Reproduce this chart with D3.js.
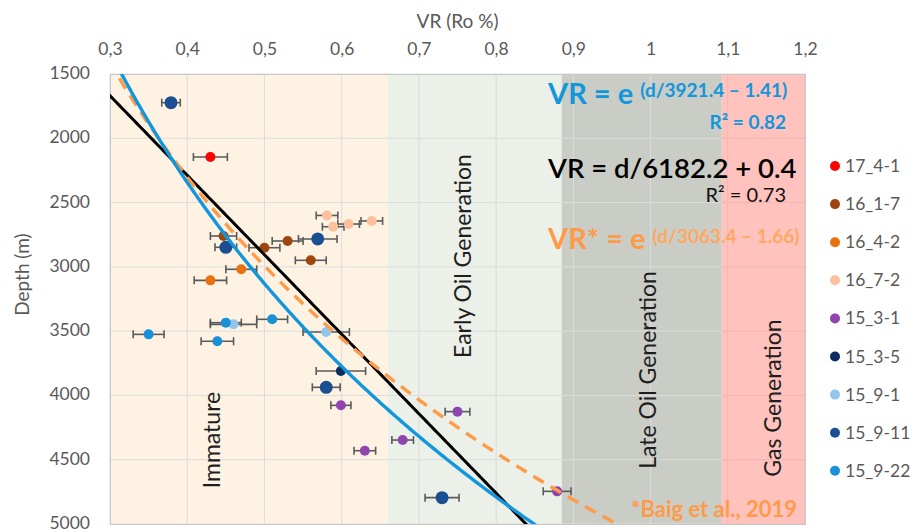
<!DOCTYPE html>
<html>
<head>
<meta charset="utf-8">
<script src="https://cdn.jsdelivr.net/npm/d3@7"></script>
<style>
  body { margin: 0; background: #fff; }
  text { font-family: Lato, "Open Sans", sans-serif; }
</style>
</head>
<body>
<script>
// wells shown in the legend, in draw order
var wells = ["17_4-1", "16_1-7", "16_4-2", "16_7-2", "15_3-1", "15_3-5", "15_9-1", "15_9-11", "15_9-22"];
var wellColors = ["#ff0000", "#9e4510", "#e8700f", "#fcc09c", "#8f45ae", "#0d2b60", "#94c6ec", "#1c4f92", "#1891d9"];

// samples: [well, VR (Ro %), depth (m), error +/-]
var samples = [
  ["17_4-1", 0.430, 2146, 0.022],
  ["16_1-7", 0.447, 2760, 0.017],
  ["16_1-7", 0.500, 2851, 0.020],
  ["16_1-7", 0.530, 2799, 0.020],
  ["16_1-7", 0.560, 2949, 0.020],
  ["16_4-2", 0.470, 3019, 0.020],
  ["16_4-2", 0.430, 3105, 0.021],
  ["16_7-2", 0.581, 2600, 0.014],
  ["16_7-2", 0.589, 2688, 0.014],
  ["16_7-2", 0.609, 2667, 0.014],
  ["16_7-2", 0.639, 2643, 0.014],
  ["15_3-1", 0.599, 4077, 0.013],
  ["15_3-1", 0.750, 4126, 0.016],
  ["15_3-1", 0.679, 4347, 0.014],
  ["15_3-1", 0.630, 4430, 0.014],
  ["15_3-1", 0.879, 4746, 0.018],
  ["15_3-5", 0.599, 3810, 0.032],
  ["15_9-1", 0.460, 3447, 0.030],
  ["15_9-1", 0.580, 3507, 0.030],
  ["15_9-11", 0.379, 1723, 0.012],
  ["15_9-11", 0.569, 2783, 0.025],
  ["15_9-11", 0.450, 2848, 0.014],
  ["15_9-11", 0.580, 3937, 0.018],
  ["15_9-11", 0.730, 4795, 0.022],
  ["15_9-22", 0.350, 3525, 0.020],
  ["15_9-22", 0.450, 3434, 0.020],
  ["15_9-22", 0.510, 3408, 0.020],
  ["15_9-22", 0.439, 3579, 0.021]
];

// maturity zones (VR boundaries)
var zoneNames = ["Immature", "Early Oil Generation", "Late Oil Generation", "Gas Generation"];
var zoneEdges = [0.3, 0.66, 0.885, 1.092, 1.2];
var zoneColors = ["#fef3e3", "#ebf0e8", "#c9cdc5", "#ff9c94"];
// label anchor for each zone [VR, depth]
var zoneLabelAt = [[0.4425, 4347], [0.7675, 2916], [1.007, 3802], [1.169, 4020]];

var xTicks = [0.3, 0.4, 0.5, 0.6, 0.7, 0.8, 0.9, 1.0, 1.1, 1.2];
var yTicks = [1500, 2000, 2500, 3000, 3500, 4000, 4500, 5000];

// trend lines as drawn
var expFit = { a: 3530, b: 1.58 };      // blue exponential
var linFit = { k: 6182.2, c: 0.03 };     // black linear
var baigFit = { a: 3095, b: 1.66 };      // Baig et al. 2019

var margin = { top: 74, left: 110, right: 114, bottom: 8 },
    width = 919,
    height = 532;

var svg = d3.select('body')
    .append('svg')
    .attr('width', width)
    .attr('height', height)

var x = d3.scaleLinear().domain([0.3, 1.2]).range([margin.left, width - margin.right])
var y = d3.scaleLinear().domain([1500, 5000]).range([margin.top, height - margin.bottom])

var comma = d3.formatLocale({ decimal: ",", thousands: ".", grouping: [3], currency: ["", ""] }).format("~g")

// zone backgrounds
var zones = zoneNames.map(function (n, i) { return { name: n, x0: zoneEdges[i], x1: zoneEdges[i + 1], color: zoneColors[i] } })

svg.append('g').selectAll('rect')
    .data(zones.slice(0, 3))
    .enter().append('rect')
    .attr('x', function (d) { return x(d.x0) })
    .attr('width', function (d) { return x(d.x1) - x(d.x0) })
    .attr('y', y(1500))
    .attr('height', y(5000) - y(1500))
    .attr('fill', function (d) { return d.color })

// grid
var grid = svg.append('g').attr('stroke', '#dcdcdc').attr('stroke-width', 1)
grid.selectAll('.v').data(xTicks).enter().append('line')
    .attr('x1', function (d) { return x(d) }).attr('x2', function (d) { return x(d) })
    .attr('y1', y(1500)).attr('y2', y(5000))
grid.selectAll('.h').data(yTicks).enter().append('line')
    .attr('y1', function (d) { return y(d) }).attr('y2', function (d) { return y(d) })
    .attr('x1', x(0.3)).attr('x2', x(1.2))

// gas zone sits over the grid, semi transparent
svg.append('g').selectAll('rect')
    .data(zones.slice(3))
    .enter().append('rect')
    .attr('x', function (d) { return x(d.x0) })
    .attr('width', function (d) { return x(d.x1) - x(d.x0) })
    .attr('y', y(1500))
    .attr('height', y(5000) - y(1500))
    .attr('fill', function (d) { return d.color })
    .attr('opacity', 0.62)

// frame
svg.append('rect')
    .attr('x', x(0.3) + 0.5).attr('y', y(1500) + 0.5)
    .attr('width', x(1.2) - x(0.3)).attr('height', y(5000) - y(1500))
    .attr('fill', 'none').attr('stroke', '#c8c8c8')

// zone labels
svg.append('g').selectAll('text')
    .data(zones)
    .enter().append('text')
    .attr('transform', function (d, i) { return 'translate(' + x(zoneLabelAt[i][0]) + ',' + y(zoneLabelAt[i][1]) + ') rotate(-90)' })
    .attr('text-anchor', 'middle')
    .attr('font-size', 23)
    .attr('fill', '#1e1e1e')
    .text(function (d) { return d.name })

// axes
var xAxis = svg.append('g')
    .attr('transform', 'translate(0,' + (y(1500) - 6) + ')')
    .call(d3.axisTop(x).tickValues(xTicks).tickSize(0).tickPadding(13).tickFormat(comma))
var yAxis = svg.append('g')
    .attr('transform', 'translate(' + (x(0.3) - 20) + ',0)')
    .call(d3.axisLeft(y).tickValues(yTicks).tickSize(0).tickPadding(0).tickFormat(d3.format("d")))
yAxis.selectAll('.tick text').attr('dy', '0.26em')
svg.selectAll('.domain').remove()
svg.selectAll('.tick text').attr('font-size', 17.5).attr('fill', '#595959').attr('font-family', 'Lato, sans-serif')

svg.append('text')
    .attr('x', x(0.75)).attr('y', 28)
    .attr('text-anchor', 'middle').attr('font-size', 19).attr('fill', '#595959')
    .text('VR (Ro %)')
svg.append('text')
    .attr('transform', 'translate(29,' + y(3060) + ') rotate(-90)')
    .attr('text-anchor', 'middle').attr('font-size', 19).attr('fill', '#595959')
    .text('Depth (m)')

var colorOf = d3.scaleOrdinal().domain(wells).range(wellColors)
function radius(w) { return w === "15_9-11" ? 6.5 : 5 }

var plot = svg.append('g')

// error bars
var err = plot.append('g').attr('stroke', '#5a5a5a').attr('stroke-width', 1.6)
samples.forEach(function (s) {
    var cy = y(s[2])
    err.append('line').attr('x1', x(s[1] - s[3])).attr('x2', x(s[1] + s[3])).attr('y1', cy).attr('y2', cy)
    err.append('line').attr('x1', x(s[1] - s[3])).attr('x2', x(s[1] - s[3])).attr('y1', cy - 4).attr('y2', cy + 4)
    err.append('line').attr('x1', x(s[1] + s[3])).attr('x2', x(s[1] + s[3])).attr('y1', cy - 4).attr('y2', cy + 4)
})

// markers, series by series
var ordered = samples.slice().sort(function (a, b) { return wells.indexOf(a[0]) - wells.indexOf(b[0]) })
plot.append('g').selectAll('circle')
    .data(ordered)
    .enter().append('circle')
    .attr('cx', function (d) { return x(d[1]) })
    .attr('cy', function (d) { return y(d[2]) })
    .attr('r', function (d) { return radius(d[0]) })
    .attr('fill', function (d) { return colorOf(d[0]) })

// trend lines
svg.append('clipPath').attr('id', 'clip').append('rect')
    .attr('x', x(0.3)).attr('y', y(1500)).attr('width', x(1.2) - x(0.3)).attr('height', y(5000) - y(1500))

var depths = d3.range(1400, 5101, 20)
var line = d3.line()
    .x(function (d) { return x(d[0]) })
    .y(function (d) { return y(d[1]) })

var trends = svg.append('g').attr('clip-path', 'url(#clip)').attr('fill', 'none')
trends.append('path')
    .datum(depths.map(function (d) { return [d / linFit.k + linFit.c, d] }))
    .attr('d', line).attr('stroke', '#000').attr('stroke-width', 3)
trends.append('path')
    .datum(depths.map(function (d) { return [Math.exp(d / baigFit.a - baigFit.b), d] }))
    .attr('d', line).attr('stroke', '#ff9a48').attr('stroke-width', 3.4).attr('stroke-dasharray', '12,8')
trends.append('path')
    .datum(depths.map(function (d) { return [Math.exp(d / expFit.a - expFit.b), d] }))
    .attr('d', line).attr('stroke', '#1296dc').attr('stroke-width', 3.4)

// equations
var eq = svg.append('g').attr('font-weight', 'bold')
var t1 = eq.append('text').attr('x', 548).attr('y', 104).attr('fill', '#1296dc')
t1.append('tspan').attr('font-size', 29).text('VR = e ')
t1.append('tspan').attr('font-size', 19).attr('dy', -7).text('(d/3921.4 \u2013 1.41)')
eq.append('text').attr('x', 786).attr('y', 129).attr('text-anchor', 'end')
    .attr('font-size', 19).attr('fill', '#1296dc').text('R\u00b2 = 0.82')

svg.append('text').attr('x', 548).attr('y', 178).attr('font-size', 27.5).attr('font-weight', 600)
    .attr('fill', '#000').text('VR = d/6182.2 + 0.4')
svg.append('text').attr('x', 786).attr('y', 202).attr('text-anchor', 'end')
    .attr('font-size', 20).attr('fill', '#111').text('R\u00b2 = 0.73')

var t3 = eq.append('text').attr('x', 548).attr('y', 249).attr('fill', '#ff9a48')
t3.append('tspan').attr('font-size', 29).text('VR* = e ')
t3.append('tspan').attr('font-size', 19).attr('dy', -6).attr('fill', '#ffa862').text('(d/3063.4 \u2013 1.66)')

eq.append('text').attr('x', 797).attr('y', 517).attr('text-anchor', 'end')
    .attr('font-size', 22).attr('fill', '#ff9a48').text('*Baig et al., 2019')

// legend
var legend = svg.append('g').selectAll('g')
    .data(wells)
    .enter().append('g')
    .attr('transform', function (d, i) { return 'translate(835,' + (166 + i * 38.1) + ')' })
legend.append('circle').attr('r', 5).attr('fill', function (d) { return colorOf(d) })
legend.append('text').attr('x', 10).attr('y', 6).attr('font-size', 17.5).attr('fill', '#595959')
    .text(function (d) { return d })
</script>
</body>
</html>
